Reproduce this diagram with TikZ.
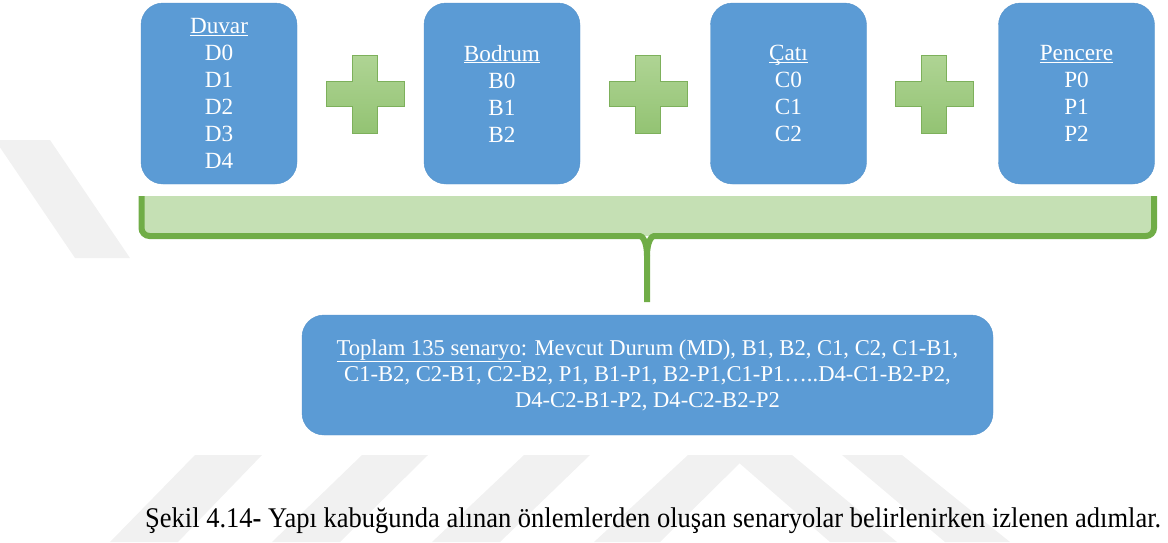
\documentclass[tikz,border=0pt]{standalone}
\usepackage{fontspec}
\setmainfont{Liberation Serif}
\newfontfamily\capfont{Liberation Serif}[FakeStretch=0.93]
\usetikzlibrary{calc}
\definecolor{boxblue}{HTML}{5B9BD5}
\definecolor{boxedge}{HTML}{5593CC}
\definecolor{plustop}{HTML}{AFD494}
\definecolor{plusbot}{HTML}{93C373}
\definecolor{plusedge}{HTML}{7DB05B}
\definecolor{bracefill}{HTML}{C5E0B4}
\definecolor{bracegreen}{HTML}{70AD47}
\definecolor{wmark}{HTML}{F1F1F1}
\tikzset{
  topbox/.style={draw=boxedge, fill=boxblue, rounded corners=22pt, minimum width=156pt,
    minimum height=181pt, inner sep=0pt, text=white, align=center,
    font=\fontsize{23.2}{27}\selectfont},
  bigbox/.style={draw=boxedge, fill=boxblue, rounded corners=22pt, minimum width=691pt,
    minimum height=120pt, inner sep=0pt, text=white, align=center,
    font=\fontsize{22.6}{26}\selectfont},
  plusshape/.style={draw=plusedge, line width=0.8pt, top color=plustop, bottom color=plusbot},
  bracestroke/.style={draw=bracegreen, line width=6pt},
  stripe/.style={fill=wmark},
  captionstyle/.style={font=\capfont\fontsize{28.5}{32}\selectfont, inner sep=0pt}
}
\begin{document}
\begin{tikzpicture}[x=1pt,y=-1pt]
\useasboundingbox (0,0) rectangle (1168,542);
% watermark stripes
\fill[stripe] (-5,140) -- (50,140) -- (130,258) -- (75,258) -- cycle;
\fill[stripe] (195,455) -- (262,455) -- (178,542) -- (110,542) -- cycle;
\fill[stripe] (362,455) -- (428,455) -- (340,542) -- (272,542) -- cycle;
\fill[stripe] (524,455) -- (590,455) -- (500,542) -- (432,542) -- cycle;
\fill[stripe] (688,455) -- (748,455) -- (660,542) -- (594,542) -- cycle;
\fill[stripe] (730,455) -- (792,455) -- (897,542) -- (830,542) -- cycle;
\fill[stripe] (842,455) -- (902,455) -- (1010,542) -- (945,542) -- cycle;
% top boxes
\node[topbox] (duvar) at (219,93.5) {\underline{Duvar}\\D0\\D1\\D2\\D3\\D4};
\node[topbox] (bodrum) at (502,93.5) {\underline{Bodrum}\\B0\\B1\\B2};
\node[topbox] (cati) at (788.5,93.5) {\underline{\raisebox{0pt}[\height][0pt]{Çatı}}\\C0\\C1\\C2};
\node[topbox] (pencere) at (1076.5,93.5) {\underline{Pencere}\\P0\\P1\\P2};
% plus signs
\foreach \c in {365,648,934}{
  \draw[plusshape, shift={(\c,94)}] (-12.5,-39) -- (12.5,-39) -- (12.5,-12.5) -- (39,-12.5)
    -- (39,12.5) -- (12.5,12.5) -- (12.5,39) -- (-12.5,39) -- (-12.5,12.5) -- (-39,12.5)
    -- (-39,-12.5) -- (-12.5,-12.5) -- cycle;
}
% brace
\coordinate (bl) at (141.5,196);
\coordinate (br) at (1154,196);
\coordinate (tip) at (647,302);
\fill[bracefill] (141.5,196) rectangle (1154,236);
\draw[bracestroke, rounded corners=8pt] (bl) -- (141.5,236) -- (632,236) [sharp corners]
  .. controls (642,236) and (647,241) .. (647,256) -- (tip);
\draw[bracestroke, rounded corners=8pt] (br) -- (1154,236) -- (662,236) [sharp corners]
  .. controls (652,236) and (647,241) .. (647,256);
% bottom box
\node[bigbox] (toplam) at (647.5,375) {\underline{Toplam 135 senaryo}: Mevcut Durum (MD), B1, B2, C1, C2, C1-B1,\\
C1-B2, C2-B1, C2-B2, P1, B1-P1, B2-P1,C1-P1…..D4-C1-B2-P2,\\
D4-C2-B1-P2, D4-C2-B2-P2};
% caption
\node[captionstyle, anchor=base west] (caption) at (145,527) {Şekil 4.14\textbf{-} Yapı kabuğunda alınan önlemlerden oluşan senaryolar belirlenirken izlenen adımlar.};
\end{tikzpicture}
\end{document}
